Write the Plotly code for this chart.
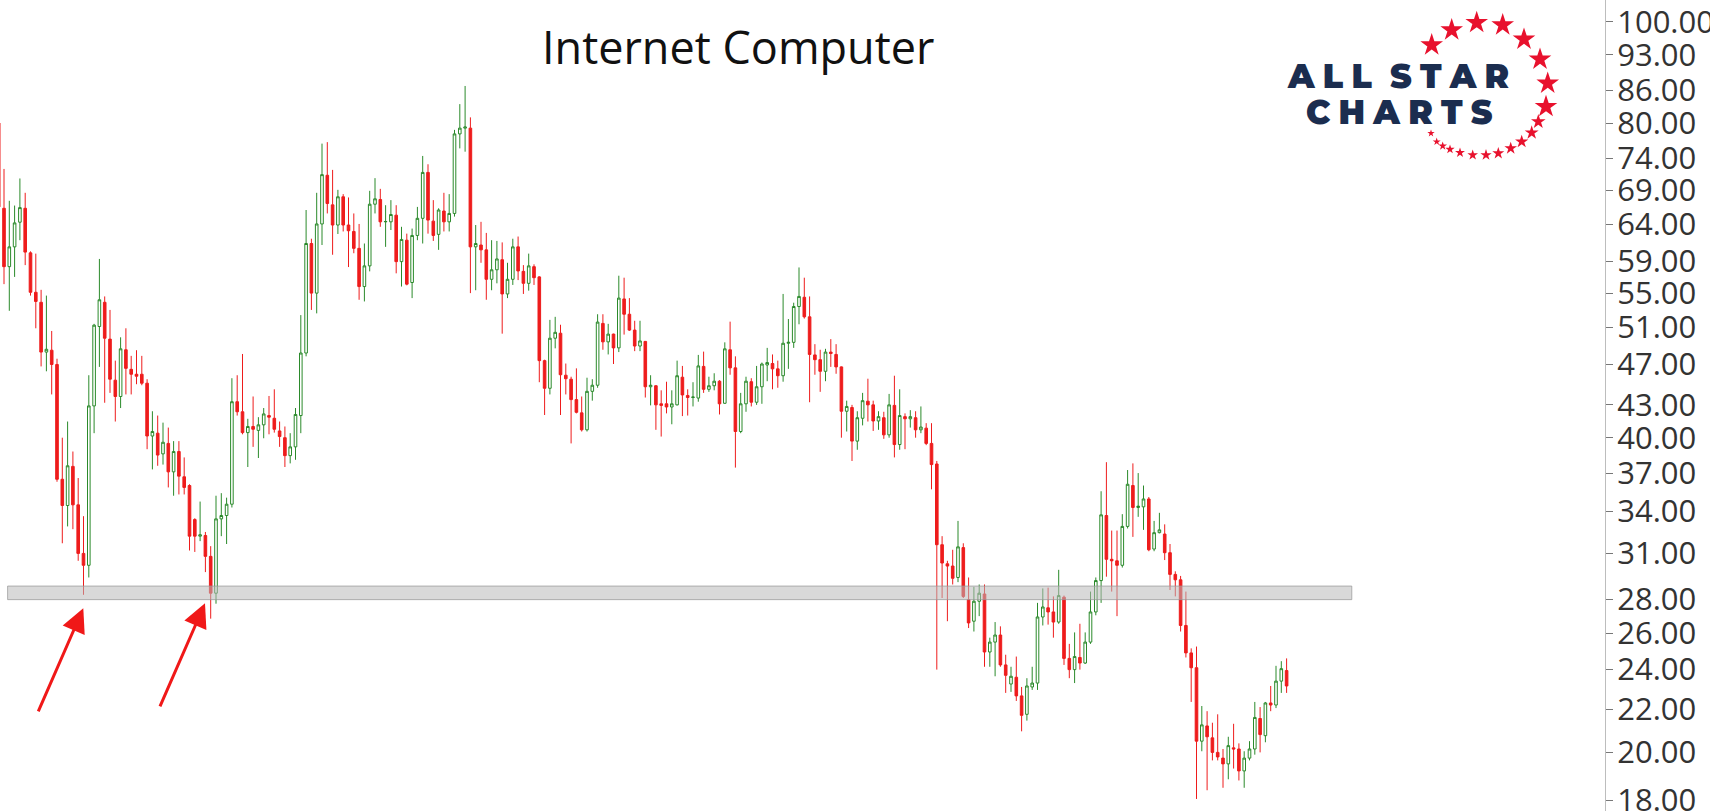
import math
import plotly.graph_objects as go

# ---------------- data ----------------
open_ = [80.0, 66.3, 58.3, 60.9, 64.3, 66.3, 60.1, 55.1, 53.9, 48.3,
         48.5, 47.0, 36.5, 34.45, 37.55, 34.5, 31.0, 30.2, 42.9, 51.1,
         53.9, 49.7, 45.4, 43.8, 48.55, 46.5, 46.0, 46.0, 45.1, 40.15,
         40.4, 38.6, 39.5, 37.1, 38.8, 36.7, 36.0, 33.4, 32.2, 32.25,
         30.8, 28.4, 33.45, 33.7, 34.55, 43.3, 42.35, 40.45, 41.0, 40.65,
         41.15, 42.0, 41.75, 40.6, 40.0, 38.45, 39.2, 42.0, 48.2, 61.35,
         55.0, 64.05, 71.3, 66.8, 63.9, 68.0, 63.9, 63.0, 60.7, 55.8,
         58.4, 66.9, 67.6, 64.35, 64.35, 65.3, 58.95, 61.8, 56.3, 62.45,
         64.85, 71.75, 64.45, 62.6, 65.9, 64.35, 65.55, 78.1, 79.1, 79.1,
         60.9, 61.15, 60.5, 56.7, 57.9, 59.2, 54.9, 56.7, 60.9, 57.7,
         56.2, 58.3, 57.0, 47.4, 44.6, 49.8, 50.35, 45.9, 45.5, 43.5,
         42.25, 40.7, 44.3, 44.9, 51.45, 49.4, 50.25, 48.75, 54.3, 52.5,
         50.7, 48.95, 49.45, 44.75, 44.85, 43.1, 43.1, 42.8, 43.0, 45.7,
         43.9, 43.7, 43.65, 46.8, 44.5, 44.85, 45.3, 43.15, 48.55, 46.65,
         40.55, 43.1, 45.25, 43.25, 44.75, 46.95, 47.1, 46.55, 45.85, 49.25,
         49.35, 53.4, 54.5, 52.2, 48.0, 47.5, 46.3, 48.3, 48.05, 46.75,
         42.4, 42.75, 39.7, 41.75, 43.35, 43.0, 41.5, 41.8, 40.25, 42.95,
         39.4, 41.9, 41.7, 41.8, 40.7, 40.85, 39.5, 37.75, 31.6, 30.3,
         30.15, 29.4, 31.4, 28.0, 26.7, 27.9, 28.35, 24.95, 25.5, 25.9,
         24.25, 23.25, 23.6, 22.65, 21.75, 23.1, 23.3, 26.95, 27.5, 27.25,
         26.65, 28.15, 24.6, 24.0, 24.65, 24.35, 25.5, 27.25, 29.2, 33.7,
         30.6, 30.5, 30.2, 32.9, 36.0, 34.3, 34.35, 34.95, 31.3, 32.45,
         32.35, 31.05, 29.6, 29.25, 26.45, 24.9, 24.1, 20.5, 21.2, 20.65,
         20.0, 19.75, 19.5, 20.2, 20.15, 19.2, 19.75, 20.15, 21.55, 20.75,
         22.3, 22.2, 23.4, 23.95]
high = [81.5, 72.3, 67.4, 66.7, 70.8, 68.6, 60.3, 60.0, 55.4, 54.7,
        50.6, 47.6, 40.0, 41.45, 38.8, 36.6, 33.65, 45.9, 51.4, 59.3,
        54.6, 53.0, 47.4, 49.9, 50.9, 47.9, 48.5, 47.9, 45.5, 42.4,
        42.0, 41.35, 40.9, 39.7, 39.7, 38.3, 36.1, 33.5, 34.75, 32.5,
        31.5, 35.2, 35.4, 35.05, 45.6, 45.9, 48.1, 41.7, 43.8, 41.85,
        42.7, 43.85, 44.5, 41.45, 41.0, 40.4, 42.7, 52.4, 66.05, 62.0,
        68.6, 76.45, 76.7, 72.15, 69.05, 68.4, 67.9, 65.55, 64.05, 61.35,
        68.9, 70.85, 69.2, 66.75, 67.5, 66.75, 63.65, 62.7, 63.4, 66.5,
        74.4, 73.05, 67.5, 66.3, 68.6, 68.4, 78.8, 83.4, 86.8, 81.0,
        63.9, 64.35, 62.8, 61.8, 61.7, 61.5, 58.8, 62.0, 62.3, 58.5,
        60.0, 58.6, 57.1, 47.5, 51.85, 52.2, 51.3, 47.1, 45.75, 46.6,
        43.8, 45.65, 45.5, 52.5, 52.5, 51.4, 50.3, 57.15, 56.9, 54.4,
        51.75, 51.75, 49.5, 45.9, 44.9, 44.4, 45.25, 44.4, 47.4, 46.85,
        44.5, 45.2, 48.0, 48.35, 45.75, 46.1, 45.4, 49.35, 51.65, 47.85,
        44.15, 45.75, 45.6, 46.85, 47.2, 48.75, 48.05, 47.4, 54.9, 51.95,
        53.85, 58.2, 56.9, 54.6, 49.15, 48.55, 48.65, 49.7, 49.15, 46.8,
        43.4, 43.0, 42.4, 44.15, 45.55, 43.4, 42.4, 42.35, 44.05, 45.85,
        44.5, 42.2, 42.5, 42.4, 42.85, 41.3, 41.3, 38.0, 32.2, 30.5,
        31.25, 33.3, 31.7, 29.4, 28.8, 28.95, 28.95, 25.75, 26.65, 26.4,
        24.8, 24.15, 24.7, 23.1, 23.55, 24.15, 27.8, 28.7, 28.75, 28.2,
        29.9, 28.25, 25.4, 26.05, 26.55, 26.05, 28.5, 29.4, 35.55, 37.9,
        32.6, 32.6, 33.8, 37.25, 37.8, 37.0, 36.0, 35.1, 33.3, 33.9,
        33.05, 31.65, 29.8, 29.5, 28.5, 25.15, 25.25, 22.15, 21.9, 21.35,
        21.75, 20.15, 20.7, 21.3, 20.4, 20.05, 20.5, 22.35, 22.1, 22.35,
        23.15, 24.2, 24.45, 24.6]
low = [65.5, 56.1, 52.9, 57.0, 61.8, 58.5, 54.7, 50.9, 46.8, 46.3,
       44.0, 36.3, 31.7, 32.9, 32.7, 30.5, 28.3, 29.4, 40.4, 46.75,
       43.2, 44.15, 41.45, 42.7, 44.0, 44.0, 45.0, 44.9, 39.0, 37.3,
       37.6, 37.7, 35.85, 35.2, 35.3, 35.3, 31.2, 31.1, 31.85, 29.75,
       26.85, 27.75, 32.2, 31.65, 34.3, 42.0, 40.3, 37.5, 39.2, 38.25,
       39.95, 40.3, 40.45, 39.2, 37.5, 37.8, 38.1, 40.4, 47.85, 53.0,
       52.6, 61.15, 65.55, 59.85, 62.65, 63.0, 58.25, 60.05, 54.2, 54.0,
       57.7, 65.55, 63.65, 60.9, 63.2, 57.45, 55.8, 55.95, 54.4, 61.8,
       61.35, 62.7, 61.7, 60.5, 63.0, 63.0, 65.1, 75.65, 75.1, 55.0,
       55.35, 58.8, 54.2, 55.35, 56.2, 50.3, 54.4, 56.0, 56.6, 54.9,
       55.3, 56.0, 45.2, 42.05, 44.0, 48.7, 42.05, 44.0, 39.5, 42.2,
       40.55, 40.55, 43.4, 44.65, 48.55, 48.05, 47.05, 48.3, 50.2, 50.6,
       48.4, 48.4, 43.7, 42.95, 40.7, 40.1, 42.2, 41.2, 42.95, 41.95,
       42.0, 42.85, 43.3, 44.15, 44.25, 44.4, 42.1, 43.1, 45.95, 37.45,
       40.4, 42.35, 42.85, 43.0, 43.1, 45.3, 44.5, 44.65, 45.25, 46.55,
       48.75, 51.35, 52.0, 43.25, 45.95, 44.25, 45.3, 46.75, 46.05, 40.0,
       40.55, 38.0, 38.95, 41.1, 41.45, 40.6, 40.7, 39.9, 40.0, 38.3,
       38.95, 39.0, 40.9, 40.0, 40.4, 39.35, 35.7, 24.0, 28.1, 26.7,
       28.95, 29.1, 28.1, 26.3, 26.1, 27.0, 24.15, 24.15, 23.65, 24.15,
       22.8, 22.85, 22.4, 20.95, 21.45, 22.95, 22.95, 26.45, 26.5, 25.75,
       26.55, 24.25, 23.55, 23.3, 24.0, 24.3, 25.4, 27.05, 27.8, 29.45,
       28.5, 27.0, 30.05, 32.75, 32.15, 33.6, 32.65, 31.15, 31.15, 32.4,
       30.55, 28.6, 28.2, 26.1, 24.65, 22.35, 18.05, 20.05, 18.4, 19.65,
       19.65, 18.5, 18.85, 19.3, 18.8, 18.5, 19.65, 19.9, 20.0, 20.45,
       21.9, 22.05, 22.8, 22.8]
close = [66.5, 58.3, 60.9, 64.2, 66.4, 60.2, 55.1, 54.0, 48.3, 48.6,
         47.0, 36.5, 34.45, 37.6, 34.5, 31.0, 30.2, 42.9, 51.25, 54.2,
         49.8, 45.5, 43.8, 48.65, 46.6, 46.0, 45.8, 45.1, 40.15, 40.55,
         38.5, 39.6, 37.1, 38.8, 36.75, 35.85, 32.2, 32.2, 32.3, 30.8,
         28.4, 33.45, 33.7, 34.55, 43.3, 42.35, 40.45, 41.0, 40.75, 41.15,
         42.15, 41.85, 40.75, 40.1, 38.45, 39.2, 42.1, 48.2, 61.35, 55.0,
         64.05, 71.4, 67.0, 63.9, 68.0, 63.9, 63.1, 60.7, 55.8, 58.4,
         66.9, 67.7, 64.35, 64.4, 65.4, 58.95, 61.9, 56.1, 62.45, 64.85,
         71.75, 64.6, 62.45, 66.05, 64.35, 65.55, 78.1, 79.1, 79.3, 60.9,
         61.35, 60.5, 56.7, 57.9, 59.3, 54.9, 56.7, 60.9, 57.75, 56.2,
         58.4, 56.9, 47.4, 44.6, 49.8, 50.45, 45.95, 45.55, 43.5, 42.3,
         40.7, 44.3, 44.9, 51.6, 49.4, 50.25, 48.75, 54.4, 52.5, 50.7,
         48.95, 49.5, 44.75, 44.9, 43.0, 42.95, 42.8, 43.1, 45.85, 43.95,
         43.7, 43.75, 46.85, 44.5, 44.85, 45.3, 43.1, 48.65, 46.65, 40.55,
         43.1, 45.3, 43.25, 44.75, 47.05, 47.2, 46.55, 45.85, 49.25, 49.35,
         53.4, 54.6, 52.2, 48.05, 47.5, 46.3, 48.3, 48.15, 46.75, 42.4,
         42.85, 39.7, 41.8, 43.4, 43.0, 41.5, 41.9, 40.25, 43.0, 39.4,
         42.0, 41.7, 41.9, 40.7, 40.95, 39.5, 37.7, 31.6, 30.35, 30.15,
         29.35, 31.45, 28.2, 26.6, 27.9, 28.4, 24.95, 25.5, 25.9, 24.25,
         23.7, 23.65, 22.65, 21.7, 23.15, 23.3, 26.95, 27.55, 27.25, 26.65,
         28.25, 24.6, 24.0, 24.7, 24.35, 25.5, 27.25, 29.2, 33.75, 30.6,
         30.5, 30.2, 32.9, 36.1, 34.3, 34.4, 34.95, 31.25, 32.45, 32.65,
         31.05, 29.6, 29.25, 26.45, 24.9, 24.1, 20.5, 21.25, 20.7, 20.0,
         19.8, 19.5, 20.3, 20.15, 19.2, 19.75, 20.15, 21.6, 20.8, 22.3,
         22.2, 23.4, 24.05, 23.15]
bar_index = list(range(len(close)))

tick_values = [18, 20, 22, 24, 26, 28, 31, 34, 37, 40, 43, 47, 51, 55, 59,
               64, 69, 74, 80, 86, 93, 100]
tick_labels = [f"{v:.2f}" for v in tick_values]

support_low, support_high = 28.0, 28.85      # grey support zone
support_from, support_to = 1.68, 255.3       # bar-index extent of the zone

title_text = "Internet Computer"
logo_line1 = "A\u2005L\u2005L\u2005 S\u2005T\u2005A\u2005R"
logo_line2 = "C\u2005H\u2005A\u2005R\u2005T\u2005S"

# ---------------- layout constants (pixel overlay for decorations) ----------------
W, H = 1710, 811
PLOT_W = 1605
logo_star_x = [1431.7, 1451.7, 1476.7, 1502.7, 1524.0, 1540.0, 1547.7, 1546.0,
               1538.3, 1531.7, 1521.7, 1510.7, 1498.3, 1486.0, 1472.7, 1460.0,
               1450.0, 1442.7, 1436.7, 1431.0]
logo_star_y = [45.0, 30.0, 22.7, 25.0, 39.3, 59.3, 83.3, 106.7,
               121.7, 132.7, 141.7, 148.3, 153.3, 155.0, 155.0, 152.7,
               149.3, 146.0, 141.7, 133.3]
logo_star_size = [17] * 8 + [11, 10.5, 10, 9.5, 9, 8.5, 8, 7.5, 7, 6.5, 6, 5.5]

GREEN = "#2b8a2b"
RED = "#ee1c1c"

fig = go.Figure()

fig.add_trace(go.Candlestick(
    x=bar_index, open=open_, high=high, low=low, close=close,
    increasing=dict(line=dict(color=GREEN, width=1), fillcolor="white"),
    decreasing=dict(line=dict(color=RED, width=1), fillcolor=RED),
    whiskerwidth=0, hoverinfo="skip", showlegend=False,
))

# support zone (drawn above the candles, semi-transparent)
fig.add_trace(go.Scatter(
    x=[support_from, support_to, support_to, support_from, support_from],
    y=[support_low, support_low, support_high, support_high, support_low],
    mode="lines", fill="toself",
    fillcolor="rgba(185,185,185,0.55)",
    line=dict(color="rgba(150,150,150,0.7)", width=1),
    hoverinfo="skip", showlegend=False,
))

# logo stars on the pixel overlay
fig.add_trace(go.Scatter(
    x=logo_star_x, y=logo_star_y, xaxis="x2", yaxis="y2",
    mode="markers",
    marker=dict(symbol="star", size=logo_star_size, color="#e8112d",
                line=dict(width=0), opacity=1),
    hoverinfo="skip", showlegend=False,
))

log_lo = math.log10(100 * math.exp(-(H - 21.7) / 454.0))
log_hi = math.log10(100 * math.exp(21.7 / 454.0))
x_lo = 1.3 / 5.3
x_hi = (PLOT_W + 1.3) / 5.3

annotations = [
    dict(text=title_text, x=738, y=46, xref="x2", yref="y2",
         showarrow=False, xanchor="center", yanchor="middle",
         font=dict(family="Open Sans", size=45, color="#111111")),
    dict(text=logo_line1, x=1398, y=76, xref="x2", yref="y2",
         showarrow=False, xanchor="center", yanchor="middle",
         font=dict(family="Montserrat, Lato", size=33, color="#1b2d4f",
                   weight=900)),
    dict(text=logo_line2, x=1399, y=112, xref="x2", yref="y2",
         showarrow=False, xanchor="center", yanchor="middle",
         font=dict(family="Montserrat, Lato", size=33, color="#1b2d4f",
                   weight=900)),
]
for hx, hy in [(83.3, 608.3), (205.0, 603.3)]:
    annotations.append(dict(
        x=hx, y=hy, xref="x2", yref="y2", ax=-48, ay=110,
        showarrow=True, arrowhead=2, arrowsize=1.6, arrowwidth=3,
        arrowcolor="#f01818",
    ))

fig.update_layout(
    width=W, height=H,
    margin=dict(l=0, r=W - PLOT_W, t=0, b=0, pad=0),
    paper_bgcolor="white", plot_bgcolor="white",
    showlegend=False,
    xaxis=dict(range=[x_lo, x_hi], visible=False, showgrid=False,
               rangeslider=dict(visible=False), fixedrange=True),
    yaxis=dict(type="log", side="right", range=[log_lo, log_hi],
               tickmode="array", tickvals=tick_values, ticktext=tick_labels,
               ticks="outside", ticklen=7, tickwidth=1, tickcolor="#777777",
               ticklabelstandoff=-2, ticklabeloverflow="allow",
               showline=True, linecolor="#bdbdbd", linewidth=1,
               showgrid=False, zeroline=False, automargin=False,
               tickfont=dict(family="Open Sans", size=31, color="#333333"),
               fixedrange=True),
    xaxis2=dict(overlaying="x", anchor="y2", range=[0, PLOT_W], visible=False,
                fixedrange=True),
    yaxis2=dict(overlaying="y", anchor="x2", range=[H, 0], visible=False,
                fixedrange=True),
    annotations=annotations,
    hovermode=False,
)

fig.write_html("out.html", include_plotlyjs=True,
               config={"displayModeBar": False, "staticPlot": True},
               post_script="document.body.style.margin='0';document.body.style.overflow='hidden';")
